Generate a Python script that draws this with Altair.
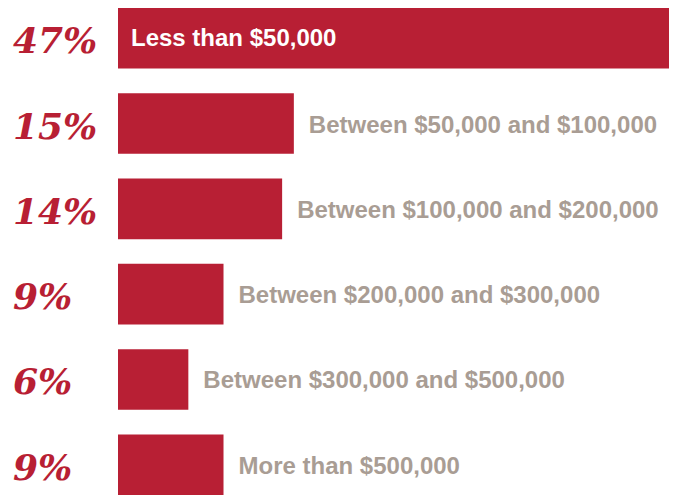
import altair as alt
import pandas as pd

categories = [
    "Less than $50,000",
    "Between $50,000 and $100,000",
    "Between $100,000 and $200,000",
    "Between $200,000 and $300,000",
    "Between $300,000 and $500,000",
    "More than $500,000",
]
shares = [47, 15, 14, 9, 6, 9]
share_labels = ["47%", "15%", "14%", "9%", "6%", "9%"]

df = pd.DataFrame({"cat": categories, "pct": shares, "plabel": share_labels})

RED = "#b81f34"
GREY = "#a99d94"

y_enc = alt.Y(
    "cat:N",
    sort=categories,
    axis=None,
    scale=alt.Scale(paddingInner=0.29, paddingOuter=0),
)
x_scale = alt.Scale(domain=[0, 47], nice=False, zero=True)

base = alt.Chart(df).encode(y=y_enc)

bars = base.mark_bar(color=RED).encode(
    x=alt.X("pct:Q", axis=None, scale=x_scale)
)

outside = (
    base.transform_filter("datum.pct < 30")
    .mark_text(
        align="left",
        baseline="middle",
        dx=15,
        dy=2,
        font="Liberation Sans",
        fontWeight="bold",
        fontSize=24,
        color=GREY,
    )
    .encode(x=alt.X("pct:Q", scale=x_scale), text="cat:N")
)

inside = (
    base.transform_filter("datum.pct >= 30")
    .mark_text(
        align="left",
        baseline="middle",
        dx=13,
        dy=1,
        font="Liberation Sans",
        fontWeight="bold",
        fontSize=24,
        color="white",
    )
    .encode(x=alt.datum(0, scale=x_scale), text="cat:N")
)

pct_text = base.mark_text(
    align="left",
    baseline="middle",
    dy=4,
    font="DejaVu Serif",
    fontWeight="bold",
    fontStyle="italic",
    fontSize=36,
    color=RED,
).encode(x=alt.value(-105), text="plabel:N")

chart = (
    alt.layer(bars, outside, inside, pct_text)
    .properties(
        width=551,
        height=487,
        autosize=alt.AutoSizeParams(type="none"),
        padding={"left": 110, "top": 0, "right": 0, "bottom": 0},
        background="white",
    )
    .configure_view(stroke=None)
)

chart.save("out.html", embed_options={"renderer": "svg", "actions": False})
